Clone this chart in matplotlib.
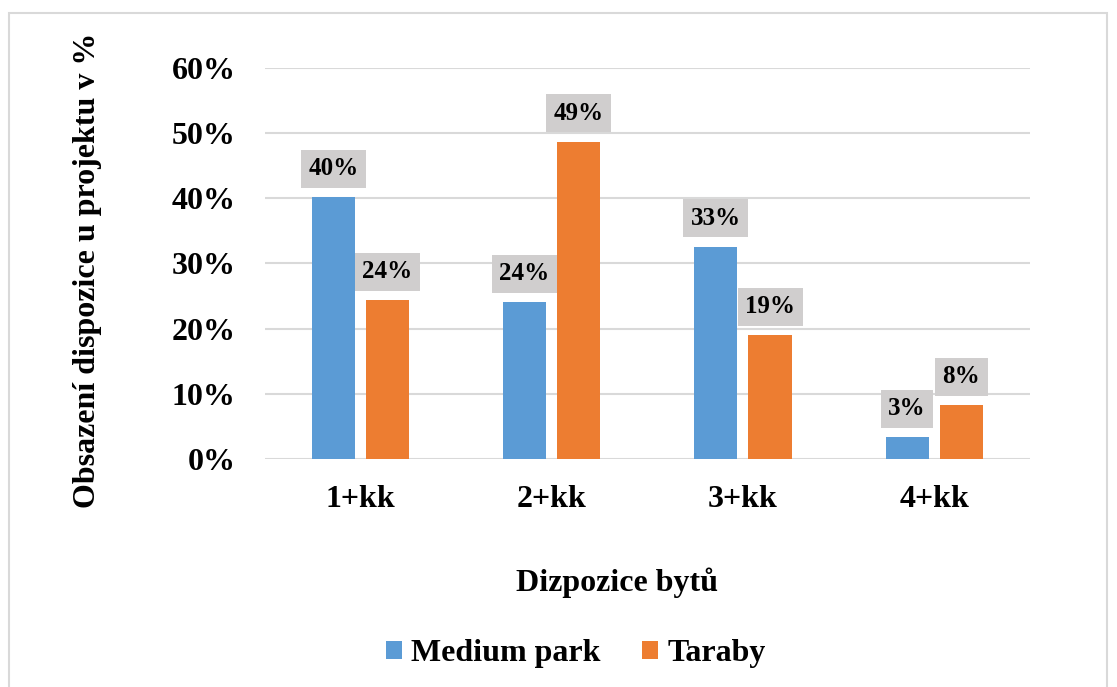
import numpy as np
import matplotlib.pyplot as plt
from matplotlib.patches import Rectangle

categories = ['1+kk', '2+kk', '3+kk', '4+kk']
medium_park = [40.2, 24.1, 32.6, 3.4]
taraby = [24.4, 48.7, 19.0, 8.3]
series_names = ['Medium park', 'Taraby']
colors = ['#5B9BD5', '#ED7D31']

plt.rcParams['font.family'] = ['Liberation Serif', 'DejaVu Serif']
plt.rcParams['font.weight'] = 'bold'

fig = plt.figure(figsize=(11.17, 6.87), dpi=100)
ax = fig.add_axes([0.237, 0.332, 0.685, 0.569])

# chart border
fig.patches.append(Rectangle((9 / 1117, -0.01), 1098 / 1117, 1 - 13 / 687 + 0.01,
                             transform=fig.transFigure, fill=False,
                             edgecolor='#D9D9D9', linewidth=1.5))

x = np.arange(len(categories))
w = 0.225
gap = 0.058
off = (w + gap) / 2

for vals, name, c, sign in [(medium_park, series_names[0], colors[0], -1),
                             (taraby, series_names[1], colors[1], 1)]:
    bars = ax.bar(x + sign * off, vals, w, color=c, label=name, zorder=3)
    for b, v in zip(bars, vals):
        ax.annotate(f'{round(v)}%', (b.get_x() + b.get_width() / 2, v),
                    xytext=(0, 12), textcoords='offset points',
                    ha='center', va='bottom', fontsize=18, fontweight='bold',
                    bbox=dict(boxstyle='square,pad=0.3', fc='#D0CECE', ec='none'),
                    zorder=4)

ax.set_xlim(-0.5, len(categories) - 0.5)
ax.set_ylim(0, 60)
ax.set_yticks(range(0, 61, 10))
ax.set_yticklabels([f'{t}%' for t in range(0, 61, 10)])
ax.set_xticks(x)
ax.set_xticklabels(categories)
ax.tick_params(axis='both', length=0, labelsize=23)
ax.tick_params(axis='y', pad=21)
ax.tick_params(axis='x', pad=19)
for lab in ax.get_xticklabels() + ax.get_yticklabels():
    lab.set_fontweight('bold')
ax.grid(axis='y', color='#D9D9D9', linewidth=1.5, zorder=0)
for s in ax.spines.values():
    s.set_visible(False)

fig.text(617 / 1117, 1 - 583 / 687, 'Dizpozice bytů', ha='center', va='center',
         fontsize=23, fontweight='bold')
fig.text(88 / 1117, 1 - 270 / 687, 'Obsazení dispozice u projektu v %', rotation=90,
         ha='center', va='center', fontsize=23, fontweight='bold')

fig.legend(loc='center', bbox_to_anchor=(576 / 1117, 1 - 654 / 687), ncol=2, frameon=False,
           prop={'size': 23, 'weight': 'bold'}, handlelength=0.5, handleheight=0.5,
           handletextpad=0.3, columnspacing=1.3)

fig.savefig('out.png', dpi=100)
